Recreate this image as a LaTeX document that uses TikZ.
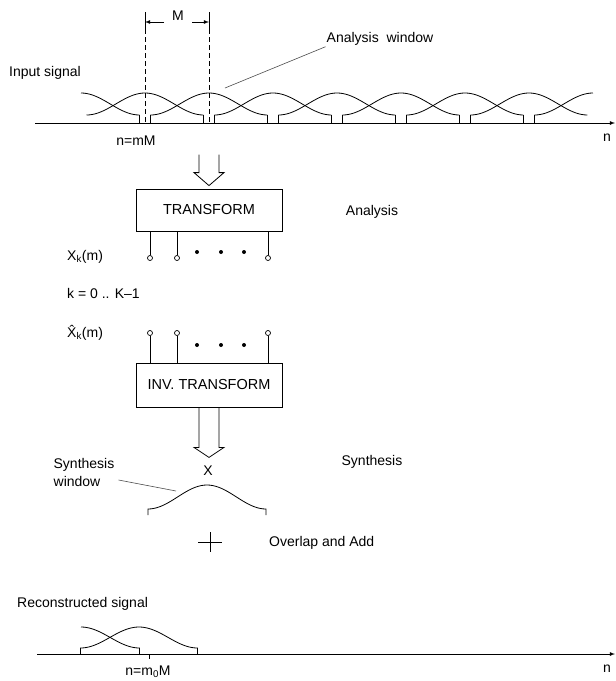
\documentclass[tikz,border=0pt]{standalone}
\usepackage{fontspec}
\setmainfont{Liberation Sans}
\usetikzlibrary{calc}
\tikzset{
  sig/.style={draw=black, line width=0.8pt},
  axisline/.style={-latex, draw=black, line width=0.8pt},
  dashline/.style={draw=black, dash pattern=on 5pt off 3pt, line width=1pt},
  blockbox/.style={draw=black, line width=0.8pt, minimum width=146pt, minimum height=42pt, font=\fontsize{14.5}{17}\selectfont},
  port/.style={circle, draw=black, line width=0.7pt, fill=white, inner sep=0pt, minimum size=5pt},
  lab/.style={text=black, font=\fontsize{14}{18}\selectfont, inner sep=1pt},
  hollow/.style={draw=black, line width=0.8pt, line join=miter},
  leader/.style={draw=black!70, line width=0.6pt}
}
\begin{document}
\begin{tikzpicture}[x=1pt,y=-1pt]
  \useasboundingbox (0,0) rectangle (616,681);

  % input signal and analysis windows
  \node[lab] (insig) at (45,73) {Input signal};
  \coordinate (ax0) at (35,123);
  \coordinate (ax1) at (615,123);
  \draw[axisline] (ax0) -- (ax1);
  \node[lab] (ntop) at (607,138) {n};
  \node[lab] (nmM) at (136,141) {n=mM};

  \foreach \i in {0,...,6}
    \draw[sig] plot[domain=-1:1, samples=41] ({145+64*\i+58.5*\x}, {115-11*(1+cos(180*\x))});
  \draw[sig] plot[domain=0:1, samples=21] ({81+58.5*\x}, {115-11*(1+cos(180*\x))});
  \draw[sig] plot[domain=-1:0, samples=21] ({593+58.5*\x}, {115-11*(1+cos(180*\x))});
  \foreach \i in {1,...,7}
    \draw[sig] ({86.5+64*\i},123) -- ({86.5+64*\i},115);
  \foreach \i in {-1,...,5}
    \draw[sig] ({203.5+64*\i},123) -- ({203.5+64*\i},115);

  % hop size M
  \coordinate (mL) at (145,22);
  \coordinate (mR) at (209,22);
  \node[lab] (mlab) at (178,16) {M};
  \draw[sig] (145,12) -- (145,29);
  \draw[sig] (209,12) -- (209,29);
  \draw[-latex, line width=0.8pt] (164,22) -- (mL);
  \draw[-latex, line width=0.8pt] (192,22) -- (mR);
  \draw[dashline] (145,29) -- (145,123);
  \draw[dashline] (209,29) -- (209,123);

  \node[lab] (anwin) at (380,39) {Analysis\ \ window};
  \coordinate (anpt) at (225,88);
  \draw[leader] (anpt) -- (anwin.south west);

  % analysis
  \node[blockbox] (tr) at (209,210) {TRANSFORM};
  \draw[hollow] ($(tr.north)+(-10,-34)$) -- ++(0,18) -- ++(-5,0)
    -- ($(tr.north)+(0,-3)$) -- ++(15,-13) -- ++(-5,0) -- ++(0,-18);
  \node[lab] (analysis) at (372,212) {Analysis};

  \node[port] (xo1) at (150,258) {};
  \node[port] (xo2) at (177,258) {};
  \node[port] (xo3) at (268,258) {};
  \foreach \p in {xo1,xo2,xo3}
    \draw[sig] (tr.south -| \p) -- (\p.north);
  \fill (197,252) circle (2pt);
  \fill (221,252) circle (2pt);
  \fill (244,252) circle (2pt);

  \node[lab, anchor=west] (xk) at (66,257) {X\textsubscript{k}(m)};
  \node[lab, anchor=west] (krange) at (66,293) {k = 0 .. K\textendash1};
  \node[lab, anchor=west] (xhat) at (66,333) {\^{X}\textsubscript{k}(m)};

  % synthesis
  \node[port] (xi1) at (150,333) {};
  \node[port] (xi2) at (177,333) {};
  \node[port] (xi3) at (268,333) {};
  \fill (197,345) circle (2pt);
  \fill (221,345) circle (2pt);
  \fill (244,345) circle (2pt);

  \node[blockbox, minimum height=44pt] (inv) at (209,385) {INV.\ TRANSFORM};
  \foreach \p in {xi1,xi2,xi3}
    \draw[sig] (\p.south) -- (inv.north -| \p);
  \draw[hollow] ($(inv.south)+(-10,0)$) -- ++(0,40) -- ++(-5,0)
    -- ($(inv.south)+(0,50)$) -- ++(15,-10) -- ++(-5,0) -- ++(0,-40);

  \node[lab] (xmul) at (208,471) {X};
  \node[lab] (synthesis) at (372,462) {Synthesis};
  \draw[sig] (148,515) -- (148,509)
    -- plot[domain=-1:1, samples=41] ({207+59*\x}, {509-12*(1+cos(180*\x))})
    -- (266,515);
  \node[lab, align=left] (synwin) at (84,472) {Synthesis\\window};
  \coordinate (synpt) at (176,491);
  \draw[leader] ([xshift=3pt,yshift=-8pt]synwin.east) -- (synpt);

  % overlap-add
  \coordinate (oa) at (210,542);
  \draw[sig] ($(oa)+(-12,0)$) -- ($(oa)+(12,0)$);
  \draw[sig] ($(oa)+(0,-10)$) -- ($(oa)+(0,10)$);
  \node[lab, anchor=west] (ola) at (268,543) {Overlap and Add};

  % reconstructed signal
  \node[lab, anchor=west] (recsig) at (16,604) {Reconstructed signal};
  \coordinate (bx0) at (37,654);
  \coordinate (bx1) at (615,654);
  \draw[axisline] (bx0) -- (bx1);
  \node[lab] (nbot) at (607,669) {n};
  \draw[sig] (149,654) -- (149,659);
  \node[lab] (nm0M) at (148,672) {n=m\textsubscript{0}M};
  \draw[sig] plot[domain=0:1, samples=21] ({81+58.5*\x}, {648-10.5*(1+cos(180*\x))}) -- (139.5,654);
  \draw[sig] (80.5,654) -- plot[domain=-1:1, samples=41] ({139+58.5*\x}, {648-10.5*(1+cos(180*\x))}) -- (197.5,654);
\end{tikzpicture}
\end{document}
